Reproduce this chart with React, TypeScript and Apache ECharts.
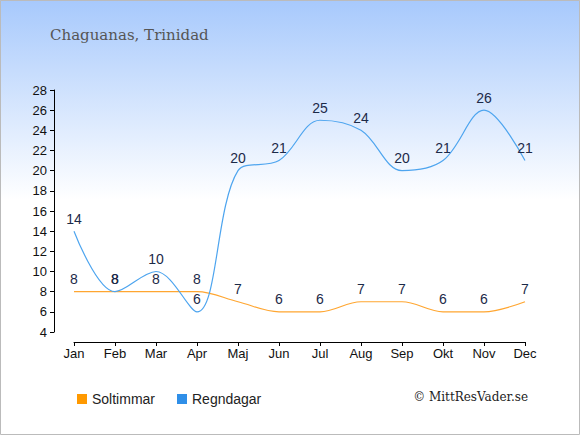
import React, { useEffect, useRef } from "react";
import * as echarts from "echarts";

const months = ["Jan", "Feb", "Mar", "Apr", "Maj", "Jun", "Jul", "Aug", "Sep", "Okt", "Nov", "Dec"];
const soltimmar = [8, 8, 8, 8, 7, 6, 6, 7, 7, 6, 6, 7];
const regndagar = [14, 8, 10, 6, 20, 21, 25, 24, 20, 21, 26, 21];
const yMin = 4;
const yMax = 28;
const yStep = 2;

export default function App() {
  const ref = useRef<HTMLDivElement>(null);
  useEffect(() => {
    if (!ref.current) return;
    const chart = echarts.init(ref.current, null, { renderer: "svg" });
    const labelStyle = {
      show: true,
      position: "top" as const,
      distance: 5,
      color: "#1c2a48",
      opacity: 1,
      fontSize: 14,
      fontFamily: "Liberation Sans, Arial, sans-serif",
    };
    chart.setOption({
      animation: false,
      backgroundColor: new echarts.graphic.LinearGradient(0, 0, 0, 1, [
        { offset: 0, color: "#a7c9fc" },
        { offset: 0.46, color: "#ffffff" },
        { offset: 1, color: "#ffffff" },
      ]),
      grid: { left: 74, right: 55, top: 90, bottom: 103 },
      title: {
        text: "Chaguanas, Trinidad",
        left: 45,
        top: 22,
        textStyle: {
          fontFamily: "DejaVu Serif, serif",
          fontWeight: "normal",
          fontSize: 15,
          color: "#555555",
        },
      },
      legend: {
        left: 72,
        top: 387,
        icon: "rect",
        itemWidth: 10,
        itemHeight: 10,
        itemGap: 22,
        textStyle: { fontSize: 14, color: "#222", fontFamily: "Liberation Sans, Arial, sans-serif" },
        data: [
          { name: "Soltimmar", itemStyle: { color: "#ff9900", opacity: 1 } },
          { name: "Regndagar", itemStyle: { color: "#2f8fe8", opacity: 1 } },
        ],
      },
      graphic: [
        {
          type: "text",
          right: 52,
          top: 391,
          style: {
            text: "© MittResVader.se",
            fontFamily: "DejaVu Serif, serif",
            fontSize: 12,
            fill: "#222",
          },
        },
        {
          type: "rect",
          shape: { x: 0.5, y: 0.5, width: 579, height: 434 },
          style: { fill: "none", stroke: "#bbbbbb", lineWidth: 1 },
          silent: true,
        },
      ],
      xAxis: {
        type: "category",
        data: months,
        boundaryGap: false,
        offset: 10,
        axisLine: { lineStyle: { color: "#000", width: 1 } },
        axisTick: { alignWithLabel: true, length: 4, lineStyle: { color: "#000" } },
        axisLabel: { color: "#111", fontSize: 13, margin: 5, fontFamily: "Liberation Sans, Arial, sans-serif" },
        splitLine: { show: false },
      },
      yAxis: {
        type: "value",
        min: yMin,
        max: yMax,
        interval: yStep,
        offset: 20,
        axisLine: { show: true, lineStyle: { color: "#000", width: 1 } },
        axisTick: { show: true, length: 4, lineStyle: { color: "#000" } },
        axisLabel: { color: "#111", fontSize: 13, margin: 7, fontFamily: "Liberation Sans, Arial, sans-serif" },
        splitLine: { show: false },
      },
      series: [
        {
          name: "Soltimmar",
          type: "line",
          data: soltimmar,
          smooth: 0.35,
          symbol: "circle",
          symbolSize: 1,
          showSymbol: true,
          showAllSymbol: true,
          lineStyle: { color: "#ffa631", width: 1.2 },
          itemStyle: { color: "rgba(0,0,0,0)", borderWidth: 0 },
          label: labelStyle,
        },
        {
          name: "Regndagar",
          type: "line",
          data: regndagar,
          smooth: 0.35,
          symbol: "circle",
          symbolSize: 1,
          showSymbol: true,
          showAllSymbol: true,
          lineStyle: { color: "#4ea5ef", width: 1.2 },
          itemStyle: { color: "rgba(0,0,0,0)", borderWidth: 0 },
          label: labelStyle,
        },
      ],
    });
    return () => chart.dispose();
  }, []);
  return (
    <div
      ref={ref}
      style={{ position: "absolute", left: 0, top: 0, width: 580, height: 435 }}
    />
  );
}
